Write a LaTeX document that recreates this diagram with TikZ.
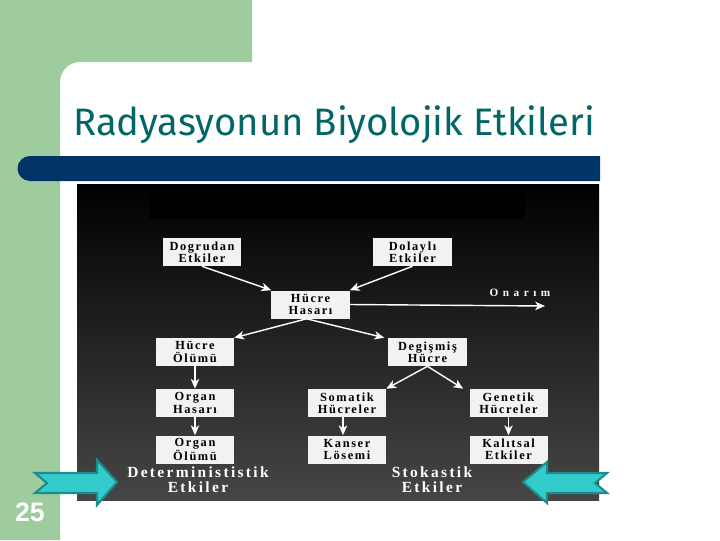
\documentclass[tikz,border=0pt]{standalone}
\usepackage{fontspec}
\setmainfont{Liberation Serif}
\newfontfamily\titlefont{Fira Sans}
\newfontfamily\numfont{Liberation Sans}
\newfontfamily\chartfont[LetterSpace=13]{Liberation Serif}
\newfontfamily\tagfont[LetterSpace=15]{Liberation Serif}
\newfontfamily\onarfont[LetterSpace=40]{Liberation Serif}
\usetikzlibrary{arrows.meta}
\definecolor{slidegreen}{RGB}{158,204,158}
\definecolor{titleteal}{RGB}{0,102,102}
\definecolor{barblue}{RGB}{0,51,102}
\definecolor{boxgray}{RGB}{242,242,242}
\definecolor{panelgray}{RGB}{70,70,70}
\definecolor{arrowcyan}{RGB}{51,204,204}
\definecolor{arrowedge}{RGB}{30,140,140}

\begin{document}
\begin{tikzpicture}[x=0.025cm, y=-0.025cm,
  box/.style={fill=boxgray, minimum width=1.95cm, minimum height=0.7cm, inner sep=0pt, align=center,
    font=\chartfont\bfseries\fontsize{8.8}{8.8}\selectfont},
  link/.style={draw=white, line width=1pt, -{Stealth[length=7pt, width=6pt, inset=2pt]}},
  tagtext/.style={text=white, align=center, font=\tagfont\bfseries\fontsize{11}{10.8}\selectfont},
  bigarrow/.style={fill=arrowcyan, draw=arrowedge, line width=1.5pt, line join=miter}]
  \useasboundingbox (0,0) rectangle (720,540);
  \fill[white] (0,0) rectangle (720,540);

  % Draw the green corner of the slide
  \fill[slidegreen] (0,0) -- (252,0) -- (252,62) -- (80,62)
    arc[start angle=-90, end angle=-180, radius=20] -- (60,540) -- (0,540) -- cycle;

  % Title and the blue bar under it
  \node[anchor=base west, text=titleteal, font=\titlefont\fontsize{27.2}{30}\selectfont, inner sep=0pt]
    (title) at (73,135) {Radyasyonun Biyolojik Etkileri};
  \fill[barblue] (600,156) -- (30,156) arc[start angle=-90, end angle=-270, radius=12.5] -- (600,181) -- cycle;

  % Dark panel of the chart
  \shade[top color=black, bottom color=panelgray] (77,184) rectangle (599,500);
  \fill[black] (150,190) rectangle (525,219);

  % The boxes
  \node[box] (dogru) at (202,252) {Dogrudan\\Etkiler};
  \node[box] (dolayli) at (412.5,252) {Dolaylı\\Etkiler};
  \node[box] (hasar) at (310.5,304.5) {Hücre\\Hasarı};
  \node[box] (olum) at (195,352) {Hücre\\Ölümü};
  \node[box] (degis) at (427.5,352) {Degişmiş\\Hücre};
  \node[box] (organh) at (195,403) {Organ\\Hasarı};
  \node[box] (somatik) at (347,403) {Somatik\\Hücreler};
  \node[box] (genetik) at (508.5,403) {Genetik\\Hücreler};
  \node[box] (organo) at (195,449.5) {Organ\\Ölümü};
  \node[box] (kanser) at (347,449.5) {Kanser\\Lösemi};
  \node[box] (kalitsal) at (508.5,449.5) {Kalıtsal\\Etkiler};

  % Texts on the panel
  \node[tagtext, font=\onarfont\bfseries\fontsize{8}{9}\selectfont] (onarim) at (520,293) {Onarım};
  \coordinate (onarimend) at (545,306);
  \node[tagtext] (determ) at (198,480) {Determinististik\\Etkiler};
  \node[tagtext] (stokas) at (432,480) {Stokastik\\Etkiler};

  % Draw the connectors
  \draw[link] (dogru.south) -- (hasar.north west);
  \draw[link] (dolayli.south) -- (hasar.north east);
  \draw[link] (hasar.east) -- (onarimend);
  \draw[link] ([xshift=-0.1cm]hasar.south) -- (olum.north east);
  \draw[link] ([xshift=-0.1cm]hasar.south) -- ([xshift=-0.1cm]degis.north west);
  \draw[link] (degis.south) -- (somatik.north east);
  \draw[link] (degis.south) -- ([xshift=-0.15cm]genetik.north west);
  \draw[link] (olum) -- (organh);
  \draw[link] (organh) -- (organo);
  \draw[link] ([xshift=-0.1cm]somatik.south) -- ([xshift=-0.1cm]kanser.north);
  \draw[link] (genetik) -- (kalitsal);

  % The two cyan arrows
  \draw[bigarrow] (35,473) -- (97,473) -- (97,460) -- (117,482) -- (97,505) -- (97,493) -- (35,493) -- (47,483) -- cycle;
  \draw[bigarrow] (523,482) -- (547,462) -- (547,473) -- (607,473) -- (595,483) -- (607,493) -- (547,493) -- (547,503) -- cycle;

  % Slide number
  \node[text=white, font=\numfont\bfseries\fontsize{19}{20}\selectfont] (slidenum) at (30,512) {25};
\end{tikzpicture}
\end{document}
